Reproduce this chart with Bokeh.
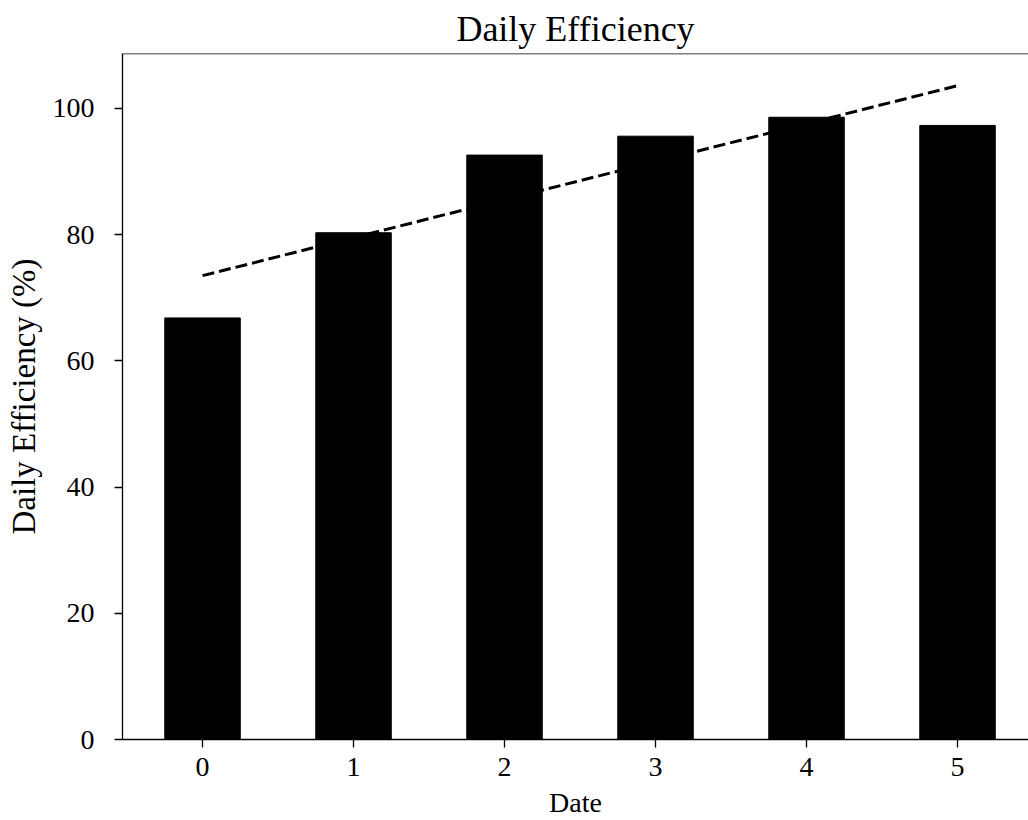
from bokeh.plotting import figure
from bokeh.models import Range1d, Span, FixedTicker
from bokeh.embed import file_html
from bokeh.resources import INLINE

# Data
dates = [0, 1, 2, 3, 4, 5]
efficiency = [66.8, 80.3, 92.6, 95.6, 98.6, 97.3]
trend_x = [0, 5]
trend_y = [73.5, 103.6]
y_ticks = [0, 20, 40, 60, 80, 100]

FONT = "Liberation Serif"

p = figure(width=1028, height=820, output_backend="svg", toolbar_location=None,
           x_range=Range1d(-0.53, 5.47), y_range=Range1d(0, 108.7),
           min_border_left=122, min_border_right=0, min_border_top=53, min_border_bottom=81,
           title="Daily Efficiency", x_axis_label="Date", y_axis_label="Daily Efficiency (%)")

p.vbar(x=dates, top=efficiency, width=0.5, bottom=0, fill_color="black", line_color="black")
p.line(trend_x, trend_y, line_color="black", line_width=3, line_dash="12 5")

p.outline_line_color = None
p.add_layout(Span(location=108.7, dimension="width", line_color="black", line_width=1.3))
p.xgrid.visible = False
p.ygrid.visible = False
p.background_fill_color = "white"
p.border_fill_color = "white"

p.title.text_font = FONT
p.title.text_font_size = "36px"
p.title.text_font_style = "normal"
p.title.align = "center"
p.title.text_color = "black"
p.title.standoff = 10

for ax in (p.xaxis[0], p.yaxis[0]):
    ax.axis_line_color = "black"
    ax.axis_line_width = 1.3
    ax.major_tick_line_color = "black"
    ax.major_tick_line_width = 1.3
    ax.major_tick_out = 8
    ax.major_tick_in = 0
    ax.minor_tick_line_color = None
    ax.major_label_text_font = FONT
    ax.major_label_text_font_size = "28px"
    ax.major_label_text_color = "black"
    ax.axis_label_text_font = FONT
    ax.axis_label_text_font_style = "normal"
    ax.axis_label_text_color = "black"

p.xaxis[0].ticker = FixedTicker(ticks=dates)
p.yaxis[0].ticker = FixedTicker(ticks=y_ticks)
p.xaxis[0].major_label_standoff = 10
p.yaxis[0].major_label_standoff = 20
p.xaxis[0].axis_label_text_font_size = "28px"
p.yaxis[0].axis_label_text_font_size = "33px"
p.xaxis[0].axis_label_standoff = 8
p.yaxis[0].axis_label_standoff = 8

open("out.html", "w").write(file_html(p, INLINE))
